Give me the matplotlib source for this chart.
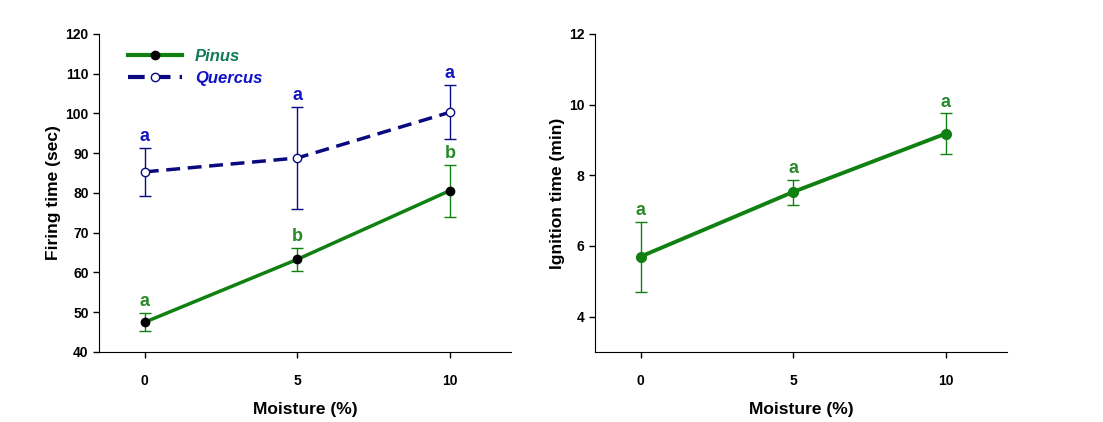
import matplotlib.pyplot as plt
from matplotlib.lines import Line2D

plt.rcParams['font.family'] = ['Liberation Sans', 'DejaVu Sans']
plt.rcParams['font.weight'] = 'bold'

moisture = [0, 5, 10]

pinus_fire = [47.5, 63.3, 80.6]
pinus_fire_lo = [45.2, 60.3, 74.0]
pinus_fire_hi = [49.8, 66.1, 87.0]
pinus_fire_grp = ["a", "b", "b"]

quercus_fire = [85.3, 88.8, 100.3]
quercus_fire_lo = [79.3, 76.0, 93.5]
quercus_fire_hi = [91.3, 101.6, 107.2]
quercus_fire_grp = ["a", "a", "a"]

ignition = [5.7, 7.53, 9.18]
ignition_lo = [4.7, 7.15, 8.6]
ignition_hi = [6.68, 7.88, 9.75]
ignition_grp = ["a", "a", "a"]

green = "#108010"
navy = "#0a0a80"
letter_green = "#2a8a2a"
letter_blue = "#1515c0"
dash = (0, (4, 2.2))


def err(mid, lo, hi):
    return [[m - l for m, l in zip(mid, lo)], [h - m for m, h in zip(mid, hi)]]


def style(ax):
    for s in ["top", "right"]:
        ax.spines[s].set_visible(False)
    ax.tick_params(direction="out", length=4, width=1, labelsize=10)
    ax.tick_params(axis="x", pad=12)
    ax.set_xlim(-1.5, 12)
    ax.set_xticks(moisture)
    ax.set_xlabel("Moisture (%)", fontsize=12.5, fontweight="bold", labelpad=10)


fig = plt.figure(figsize=(11.03, 4.22), dpi=100)
ax1 = fig.add_axes([0.0898, 0.166, 0.3735, 0.7536])
ax2 = fig.add_axes([0.5394, 0.166, 0.3735, 0.7536])

# left panel
ax1.errorbar(moisture, quercus_fire, yerr=err(quercus_fire, quercus_fire_lo, quercus_fire_hi),
             color=navy, lw=2.5, ls=dash, marker="o", ms=6, mfc="white", mec=navy,
             ecolor=navy, elinewidth=1, capsize=4, capthick=1, zorder=3)
ax1.errorbar(moisture, pinus_fire, yerr=err(pinus_fire, pinus_fire_lo, pinus_fire_hi),
             color=green, lw=2.5, marker="o", ms=6, mfc="black", mec="black",
             ecolor=green, elinewidth=1, capsize=4, capthick=1, zorder=3)
for x, h, g in zip(moisture, quercus_fire_hi, quercus_fire_grp):
    ax1.annotate(g, (x, h), xytext=(0, 2), textcoords="offset points", ha="center", va="bottom",
                 color=letter_blue, fontsize=13, fontweight="bold")
for x, h, g in zip(moisture, pinus_fire_hi, pinus_fire_grp):
    ax1.annotate(g, (x, h), xytext=(0, 2), textcoords="offset points", ha="center", va="bottom",
                 color=letter_green, fontsize=13, fontweight="bold")
style(ax1)
ax1.set_ylim(40, 120)
ax1.set_yticks(range(40, 121, 10))
ax1.set_ylabel("Firing time (sec)", fontsize=12.5, fontweight="bold", labelpad=3)

handles = [
    Line2D([], [], color=green, lw=3, marker="o", ms=6, mfc="black", mec="black"),
    Line2D([], [], color=navy, lw=3, ls=dash, marker="o", ms=6, mfc="white", mec=navy),
]
leg = ax1.legend(handles, ["Pinus", "Quercus"], loc="upper left", bbox_to_anchor=(0.035, 1.0),
                 frameon=False, handlelength=3.2, handletextpad=0.8, labelspacing=0.4,
                 prop={"size": 12, "weight": "bold", "style": "italic"})
leg.get_texts()[0].set_color("#107a5a")
leg.get_texts()[1].set_color("#1010c8")

# right panel
ax2.errorbar(moisture, ignition, yerr=err(ignition, ignition_lo, ignition_hi),
             color=green, lw=2.8, marker="o", ms=7, mfc=green, mec=green,
             ecolor=green, elinewidth=1, capsize=4, capthick=1, zorder=3)
for x, h, g in zip(moisture, ignition_hi, ignition_grp):
    ax2.annotate(g, (x, h), xytext=(0, 2), textcoords="offset points", ha="center", va="bottom",
                 color=letter_green, fontsize=13, fontweight="bold")
style(ax2)
ax2.set_ylim(3, 12)
ax2.set_yticks([4, 6, 8, 10, 12])
ax2.set_ylabel("Ignition time (min)", fontsize=12.5, fontweight="bold", labelpad=3)

fig.savefig("out.png", dpi=100)
